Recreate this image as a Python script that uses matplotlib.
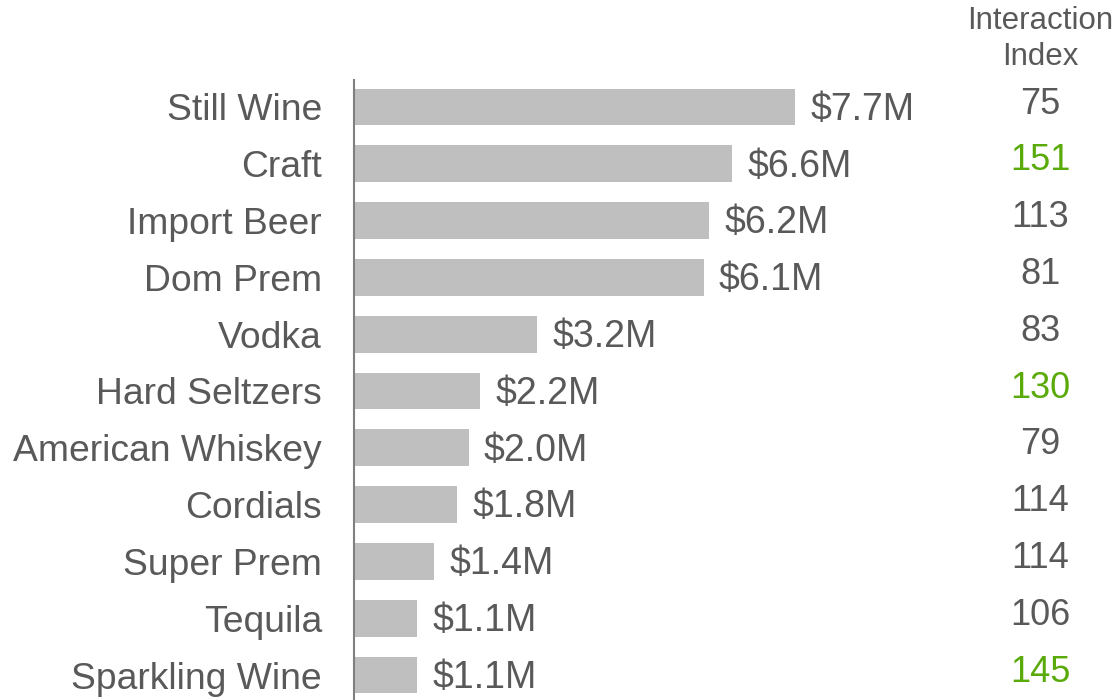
import matplotlib
matplotlib.use("Agg")
import matplotlib.pyplot as plt
from matplotlib.transforms import blended_transform_factory

categories = ["Still Wine", "Craft", "Import Beer", "Dom Prem", "Vodka",
              "Hard Seltzers", "American Whiskey", "Cordials", "Super Prem",
              "Tequila", "Sparkling Wine"]
sales_m = [7.7, 6.6, 6.2, 6.1, 3.2, 2.2, 2.0, 1.8, 1.4, 1.1, 1.1]
interaction_index = [75, 151, 113, 81, 83, 130, 79, 114, 114, 106, 145]
highlight_threshold = 120

TEXT = "#595959"
BAR = "#BFBFBF"
GREEN = "#5AAA0A"

plt.rcParams["font.family"] = ["Liberation Sans", "DejaVu Sans"]

fig = plt.figure(figsize=(11.2, 7.0), dpi=100)
ax = fig.add_axes([354 / 1120, 0.0, 766 / 1120, 620 / 700])

y = list(range(len(categories)))
ax.barh(y, sales_m, height=0.65, color=BAR, zorder=2)

px_per_unit = 57.3
ax.set_xlim(0, 766 / px_per_unit)
ax.set_ylim(10.44, -0.475)

ax.set_yticks(y)
ax.set_yticklabels(categories, fontsize=26.8, color=TEXT)
ax.tick_params(axis="y", length=0, pad=23)
ax.set_xticks([])

for side in ("top", "right", "bottom"):
    ax.spines[side].set_visible(False)
ax.spines["left"].set_color("#7F7F7F")
ax.spines["left"].set_linewidth(1.5)

for yi, v in zip(y, sales_m):
    ax.annotate(f"${v:.1f}M", xy=(v, yi), xytext=(11, -2),
                textcoords="offset points", ha="left", va="center",
                fontsize=27, color=TEXT)

col = blended_transform_factory(ax.transAxes, ax.transData)
col_x = (1040 - 354) / 766
for yi, idx in zip(y, interaction_index):
    ax.text(col_x, yi - 0.05, str(idx), transform=col, ha="center",
            va="center", fontsize=26,
            color=GREEN if idx > highlight_threshold else TEXT)

fig.text(1040 / 1120, 1 - 21 / 700, "Interaction", ha="center", va="center",
         fontsize=22.5, color=TEXT)
fig.text(1040 / 1120, 1 - 57 / 700, "Index", ha="center", va="center",
         fontsize=22.5, color=TEXT)

fig.savefig("out.png", dpi=100)
